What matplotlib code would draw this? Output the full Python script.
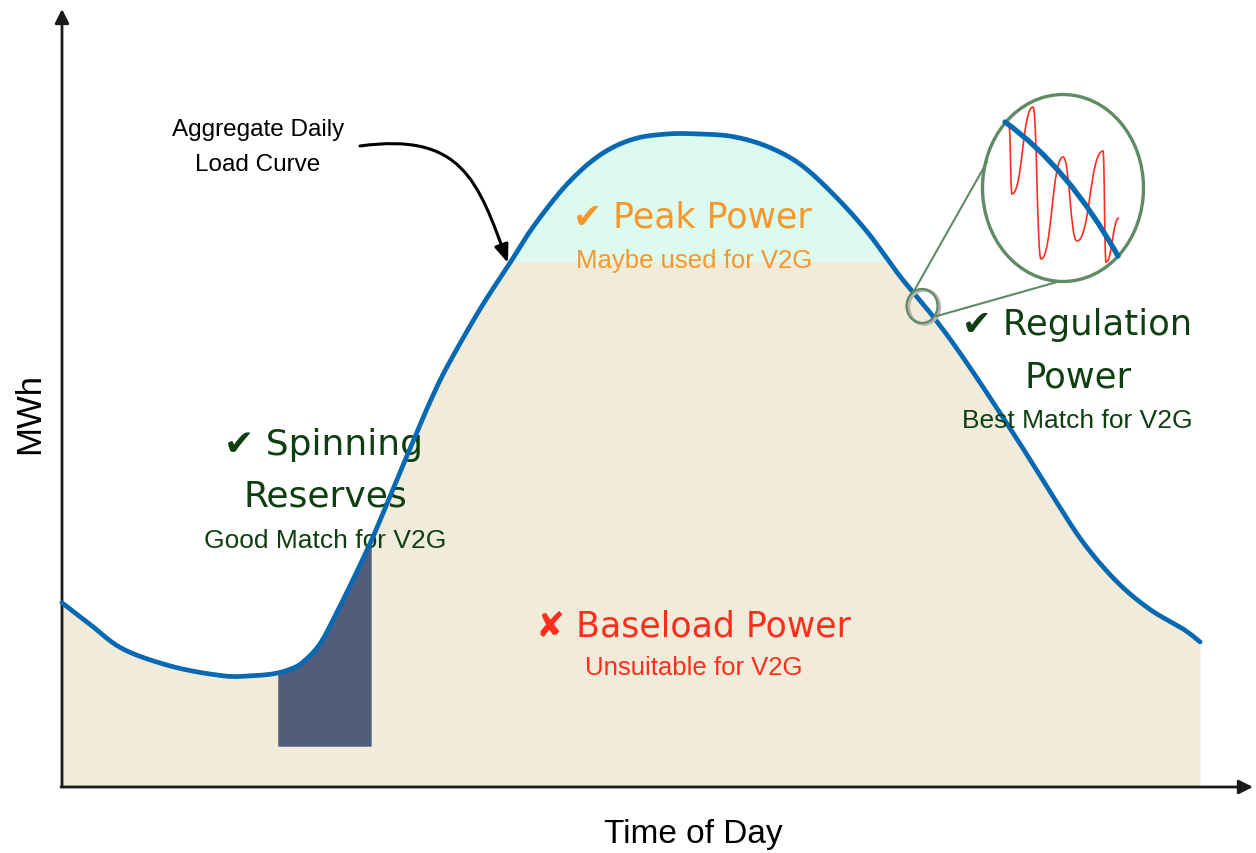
import numpy as np
import matplotlib
matplotlib.use("Agg")
import matplotlib.pyplot as plt
from matplotlib.patches import Ellipse, PathPatch, FancyArrowPatch
from matplotlib.path import Path

# aggregate daily load curve (hour of day, relative load)
hours = [0, 0.59, 1.29, 2.34, 3.40, 3.96, 4.45, 4.81, 5.08, 5.44,
         5.80, 6.14, 6.54, 6.92, 7.40, 7.76, 8.12, 8.82, 9.41, 9.93,
         10.65, 11.35, 12.04, 12.76, 13.45, 14.15, 14.87, 15.56, 16.26, 16.98,
         17.67, 18.37, 19.08, 20.14, 20.84, 21.53, 22.25, 22.94, 23.64, 24.0]
load = [28.1, 24.8, 21.0, 18.3, 16.9, 16.9, 17.2, 17.9, 19.0, 21.8,
        26.7, 31.7, 37.9, 44.5, 52.8, 58.9, 64.3, 73.2, 79.8, 85.7,
        92.3, 96.8, 99.2, 100.0, 100.0, 99.6, 98.1, 95.4, 90.8, 85.0,
        78.2, 72.0, 64.9, 53.2, 45.1, 37.4, 31.3, 27.1, 24.1, 22.1]

peak_cut = 80.5            # above this: peak power
spin_start, spin_end = 4.55, 6.52
spin_floor = 6.1

# zoomed-in regulation signal (pixel points of the inset sketch)
wiggle_px = [(1009, 127), (1012, 195), (1033, 108), (1041, 260), (1063, 158),
             (1077, 242), (1103, 152), (1106, 263), (1119, 219)]

beige = "#f1ecd9"
mint = "#dcfaee"
slate = "#525d7b"
blue = "#0869b3"
dgreen = "#0e3f10"
orange = "#f7962b"
red = "#ff2d1e"
magc = "#5f8a65"

# pixel <-> data mapping
X0, XS = 62, 47.42
Y0, YS = 787, 6.52
W, H = 1256, 854


def P(px, py):
    return ((px - X0) / XS, (Y0 - py) / YS)


def smooth(x, y, n=16):
    # catmull-rom through the read points, drawn as bezier pieces
    pts = np.column_stack([x, y])
    p = np.vstack([pts[0], pts, pts[-1]])
    t = np.linspace(0, 1, n, endpoint=False)[:, None]
    out = []
    for i in range(1, len(p) - 2):
        p0, p1, p2, p3 = p[i - 1], p[i], p[i + 1], p[i + 2]
        c1 = p1 + (p2 - p0) / 6
        c2 = p2 - (p3 - p1) / 6
        out.append((1 - t) ** 3 * p1 + 3 * (1 - t) ** 2 * t * c1
                   + 3 * (1 - t) * t ** 2 * c2 + t ** 3 * p2)
    out.append(pts[-1:])
    out = np.vstack(out)
    return out[:, 0], out[:, 1]


cx, cy = smooth(hours, load)

fig = plt.figure(figsize=(W / 100, H / 100), dpi=100)
ax = fig.add_axes([0, 0, 1, 1])
ax.set_xlim(-X0 / XS, (W - X0) / XS)
ax.set_ylim((Y0 - H) / YS, Y0 / YS)
ax.axis("off")

# areas
ax.fill_between(cx, 0, np.minimum(cy, peak_cut), color=beige, lw=0)
ax.fill_between(cx, peak_cut, cy, where=cy >= peak_cut,
                interpolate=True, color=mint, lw=0)
m = (cx >= spin_start) & (cx <= spin_end)
xs = np.concatenate([[spin_start], cx[m], [spin_end]])
ax.fill_between(xs, spin_floor, np.interp(xs, cx, cy), color=slate, lw=0)

ax.plot(cx, cy, color=blue, lw=3.4, solid_capstyle="round",
        solid_joinstyle="round", zorder=5)

# axes arrows
arr = dict(arrowstyle="-|>,head_length=0.6,head_width=0.3", color="#1a1a1a",
           lw=2, shrinkA=0, shrinkB=0, mutation_scale=14)
ax.annotate("", xy=P(62, 10), xytext=P(62, 788), arrowprops=arr)
ax.annotate("", xy=P(1253, 788), xytext=P(61, 788), arrowprops=arr)

ax.text(*P(30, 414), "MWh", rotation=90, ha="center", va="center",
        fontsize=25, family="Liberation Sans", color="black")
ax.text(*P(693, 843), "Time of Day", ha="center", va="baseline",
        fontsize=24, family="Liberation Sans", color="black")

# curve callout
ax.text(*P(258, 136), "Aggregate Daily", ha="center", va="baseline",
        fontsize=17.5, family="Liberation Sans", color="black")
ax.text(*P(258, 171), "Load Curve", ha="center", va="baseline",
        fontsize=17.5, family="Liberation Sans", color="black")
callout = Path([P(360, 147), P(462, 133), P(478, 182), P(508, 264)],
               [Path.MOVETO, Path.CURVE4, Path.CURVE4, Path.CURVE4])
ax.add_patch(FancyArrowPatch(path=callout,
                             arrowstyle="-|>,head_length=0.9,head_width=0.35",
                             mutation_scale=12, color="black", lw=2.2,
                             zorder=6))

# labels
big = dict(ha="center", va="baseline", family="DejaVu Sans")
small = dict(ha="center", va="baseline", family="Liberation Sans")

ax.text(*P(323, 455), "✔ Spinning", fontsize=26, color=dgreen, **big)
ax.text(*P(325, 507), "Reserves", fontsize=26, color=dgreen, **big)
ax.text(*P(325, 548), "Good Match for V2G", fontsize=19, color=dgreen, **small)

ax.text(*P(692, 228), "✔ Peak Power", fontsize=25, color=orange, **big)
ax.text(*P(694, 268), "Maybe used for V2G", fontsize=18.5, color=orange, **small)

ax.text(*P(693, 637), "✘ Baseload Power", fontsize=25, color=red, **big)
ax.text(*P(694, 675), "Unsuitable for V2G", fontsize=18.5, color=red, **small)

ax.text(*P(1077, 335), "✔ Regulation", fontsize=25.5, color=dgreen, zorder=7, **big)
ax.text(*P(1078, 388), "Power", fontsize=25.5, color=dgreen, zorder=7, **big)
ax.text(*P(1077, 428), "Best Match for V2G", fontsize=19, color=dgreen,
        zorder=7, **small)

# magnifier
ax.add_patch(Ellipse(P(924, 308), 31 / XS, 34 / YS, fill=False, ec="#b5b5b5",
                     lw=2.5, zorder=6))
ax.add_patch(Ellipse(P(922, 307), 31 / XS, 34 / YS, fill=False, ec=magc,
                     lw=1.6, zorder=6))
ax.add_patch(Ellipse(P(1063, 189), 161 / XS, 187 / YS, fc="white", ec=magc,
                     lw=2.4, zorder=6))
for a, b in [((914, 292), (987, 163)), ((937, 317), (1057, 283))]:
    ax.plot(*zip(P(*a), P(*b)), color=magc, lw=1.5, zorder=6)

wp = [P(*p) for p in wiggle_px]
verts, codes = [wp[0]], [Path.MOVETO]
for a, b in zip(wp[:-1], wp[1:]):
    dx = (b[0] - a[0]) / 2
    verts += [(a[0] + dx, a[1]), (b[0] - dx, b[1]), b]
    codes += [Path.CURVE4] * 3
ax.add_patch(PathPatch(Path(verts, codes), fill=False, ec=red, lw=1.2, zorder=7))

seg = Path([P(1005, 123), P(1068, 168), P(1118, 257)],
           [Path.MOVETO, Path.CURVE3, Path.CURVE3])
ax.add_patch(PathPatch(seg, fill=False, ec=blue, lw=3.8, capstyle="round",
                       zorder=8))

fig.savefig("out.png", dpi=100)
